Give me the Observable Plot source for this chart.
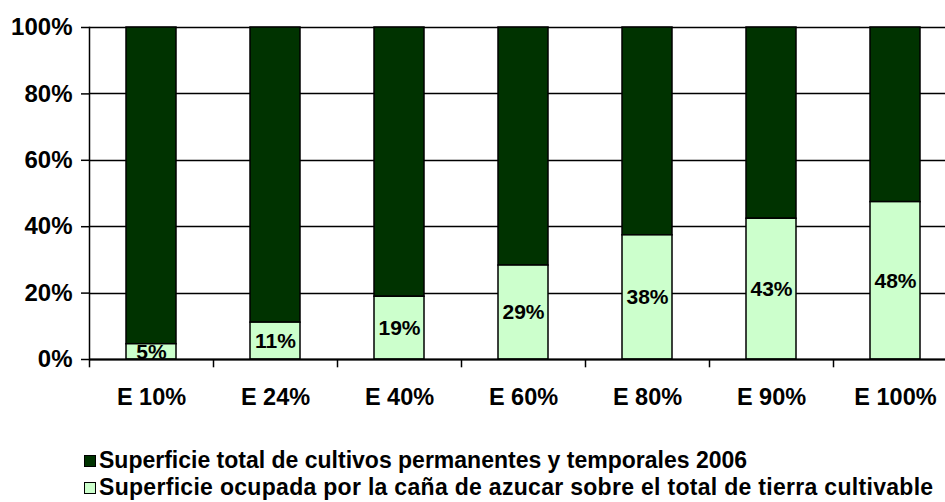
<!DOCTYPE html>
<html><head><meta charset="utf-8">
<script src="https://cdn.jsdelivr.net/npm/d3@7"></script>
<script src="https://cdn.jsdelivr.net/npm/@observablehq/plot@0.6"></script>
<style>
body{margin:0;background:#fff;font-family:"Liberation Sans",Arial,sans-serif;}
#legend{padding-top:17px;padding-left:84px;font-weight:bold;font-size:23px;color:#000;}
.row{height:27px;display:flex;align-items:center;white-space:nowrap;}
.sw{width:10px;height:10px;border:1px solid #000;margin-right:3px;flex:none;}
</style></head><body><div id="chart"></div><div id="legend"></div>
<script>
const categories = ["E 10%","E 24%","E 40%","E 60%","E 80%","E 90%","E 100%"];
const canaShare = [4.6, 11.1, 18.9, 28.3, 37.4, 42.4, 47.4];
const canaLabels = ["5%","11%","19%","29%","38%","43%","48%"];
const totalShare = [100, 100, 100, 100, 100, 100, 100];
const yTicks = [0, 20, 40, 60, 80, 100];
const seriesNames = [
  "Superficie total de cultivos permanentes y temporales 2006",
  "Superficie ocupada por la caña de azucar sobre el total de tierra cultivable"
];
const seriesColors = ["#003300", "#CCFFCC"];
const legendSpacing = ["0px", "0.3px"];

const rows = categories.map((c, i) => ({cat: c, cana: canaShare[i], total: totalShare[i], label: canaLabels[i]}));

// Gridlines drawn through the plot's own y scale (render-function mark)
function gridMark(index, scales, values, dimensions) {
  const g = d3.create("svg:g").attr("aria-label", "grid");
  const x1 = dimensions.marginLeft;
  const x2 = dimensions.width - dimensions.marginRight;
  for (const t of yTicks) {
    const y = Math.round(scales.y(t)) + 0.5;
    g.append("line")
      .attr("x1", x1).attr("x2", x2)
      .attr("y1", y).attr("y2", y)
      .attr("stroke", "#000")
      .attr("stroke-width", 1.5);
  }
  return g.node();
}

const plot = Plot.plot({
  width: 945,
  height: 430,
  marginLeft: 89,
  marginRight: -12,
  marginTop: 27,
  marginBottom: 71,
  style: {fontFamily: "'Liberation Sans', Arial, sans-serif", fontWeight: "bold", fontSize: "23px", color: "#000", background: "#fff"},
  x: {domain: categories, paddingInner: 0.6, paddingOuter: 0.3, label: null},
  y: {domain: [0, 100], label: null},
  marks: [
    gridMark,
    Plot.barY(rows, {x: "cat", y1: "cana", y2: "total", fill: seriesColors[0], stroke: "#000", strokeWidth: 1.5}),
    Plot.barY(rows, {x: "cat", y1: 0, y2: "cana", fill: seriesColors[1], stroke: "#000", strokeWidth: 1.5}),
    Plot.ruleY([0], {stroke: "#000", strokeWidth: 1.8}),
    Plot.frame({anchor: "left", stroke: "#000", strokeWidth: 1.5}),
    Plot.ruleX(categories, {x: d => d, y1: 0, y2: -2.5, dx: -62, stroke: "#000", strokeWidth: 1.5}),
    Plot.ruleX(categories.slice(-1), {x: d => d, y1: 0, y2: -2.5, dx: 62, stroke: "#000", strokeWidth: 1.5}),
    Plot.axisY(yTicks, {tickFormat: d => d + "%", tickSize: 8, tickPadding: 9, stroke: "#000", strokeWidth: 1.5, fontSize: 24, fontWeight: "bold"}),
    Plot.axisX({tickSize: 0, tickPadding: 29, fontSize: 23.5, fontWeight: "bold"}),
    Plot.text(rows, {x: "cat", y: d => d.cana / 2, text: "label", fontSize: 21, fontWeight: "bold", fill: "#000"})
  ]
});
document.getElementById("chart").appendChild(plot);

const legend = document.getElementById("legend");
seriesNames.forEach((name, i) => {
  const row = document.createElement("div");
  row.className = "row";
  const sw = document.createElement("span");
  sw.className = "sw";
  sw.style.background = seriesColors[i];
  const t = document.createElement("span");
  t.style.letterSpacing = legendSpacing[i];
  t.textContent = name;
  row.appendChild(sw);
  row.appendChild(t);
  legend.appendChild(row);
});
</script></body></html>
